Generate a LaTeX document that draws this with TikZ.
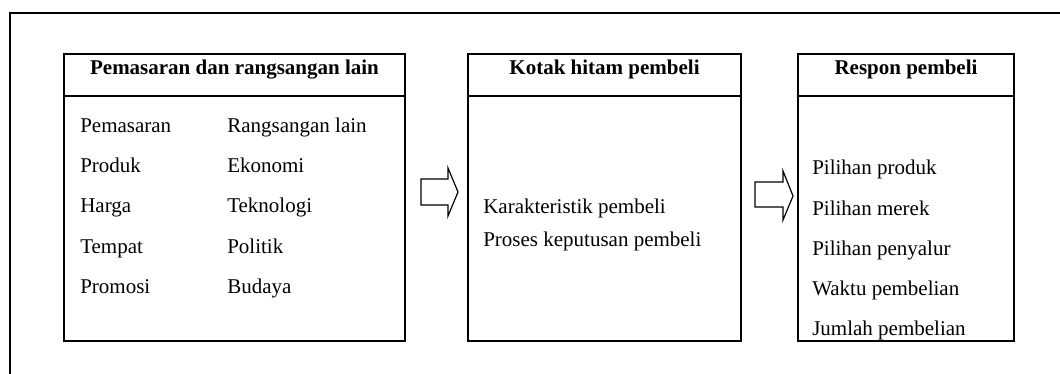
\documentclass[tikz,border=0pt]{standalone}
\usepackage{fontspec}
\setmainfont{Liberation Serif}
\begin{document}
\begin{tikzpicture}[x=0.75pt,y=-0.75pt,
  frame/.style={line width=1.5pt},
  panel/.style={draw,line width=1.5pt},
  divider/.style={line width=1.5pt},
  txt/.style={anchor=base west,inner sep=0pt,font=\fontsize{15.75}{18}\selectfont},
  head/.style={anchor=base,inner sep=0pt,font=\fontsize{15.75}{18}\selectfont\bfseries},
  blockarrow/.style={draw,line width=0.9pt,line join=miter}]
\useasboundingbox (0,0) rectangle (1060,374);

% outer frame (runs off the page to the right and bottom)
\draw[frame] (10,380) -- (10,13) -- (1070,13);

% panel corners
\coordinate (p1nw) at (64,54);   \coordinate (p1se) at (405,341);
\coordinate (p2nw) at (468,54);  \coordinate (p2se) at (741,341);
\coordinate (p3nw) at (798,54);  \coordinate (p3se) at (1014,341);

% panels with header rows
\draw[panel] (p1nw) rectangle (p1se);
\draw[divider] (p1nw |- 0,96) -- (p1se |- 0,96);
\draw[panel] (p2nw) rectangle (p2se);
\draw[divider] (p2nw |- 0,96) -- (p2se |- 0,96);
\draw[panel] (p3nw) rectangle (p3se);
\draw[divider] (p3nw |- 0,96) -- (p3se |- 0,96);

% headers
\node[head] (h1) at (234.5,75) {Pemasaran dan rangsangan lain};
\node[head] (h2) at (604.5,75) {Kotak hitam pembeli};
\node[head] (h3) at (906,75)   {Respon pembeli};

% first panel: two columns
\node[txt] (a1) at (80,133) {Pemasaran};
\node[txt] (a2) at (80,173) {Produk};
\node[txt] (a3) at (80,213) {Harga};
\node[txt] (a4) at (80,253) {Tempat};
\node[txt] (a5) at (80,293) {Promosi};
\node[txt] (b1) at (227,133) {Rangsangan lain};
\node[txt] (b2) at (227,173) {Ekonomi};
\node[txt] (b3) at (227,213) {Teknologi};
\node[txt] (b4) at (227,253) {Politik};
\node[txt] (b5) at (227,293) {Budaya};

% second panel
\node[txt] (k1) at (483,214) {Karakteristik pembeli};
\node[txt] (k2) at (483,246) {Proses keputusan pembeli};

% third panel
\node[txt] (r1) at (812,175) {Pilihan produk};
\node[txt] (r2) at (812,215) {Pilihan merek};
\node[txt] (r3) at (812,255) {Pilihan penyalur};
\node[txt] (r4) at (812,295) {Waktu pembelian};
\node[txt] (r5) at (812,335) {Jumlah pembelian};

% block arrows between panels
\draw[blockarrow] (421,179) -- (448,179) -- (448,168) -- (458,192)
  -- (448,216) -- (448,205) -- (421,205) -- cycle;
\draw[blockarrow] (755,182) -- (783,182) -- (783,171) -- (793,196)
  -- (783,220) -- (783,207) -- (755,207) -- cycle;
\end{tikzpicture}
\end{document}
